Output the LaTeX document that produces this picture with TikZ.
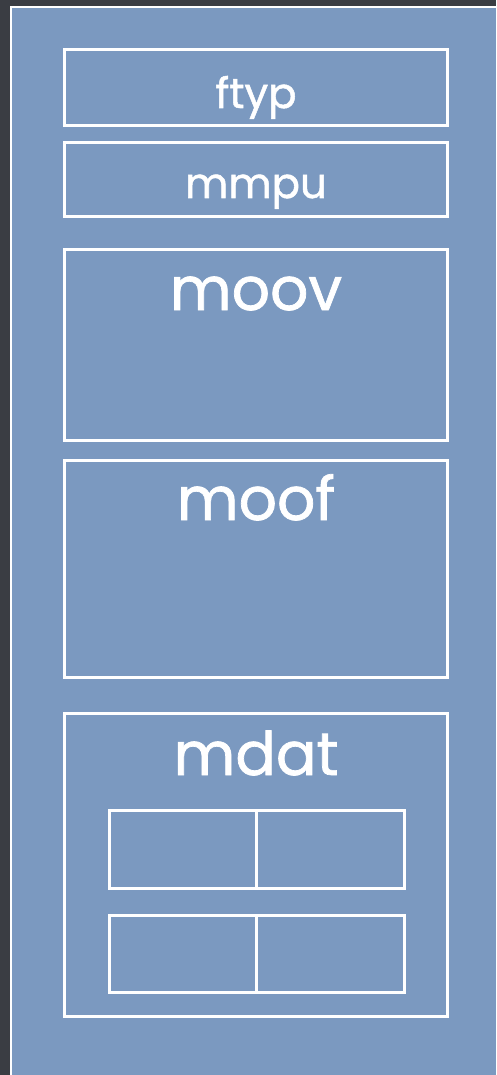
\documentclass[tikz,border=0pt]{standalone}
\usepackage{fontspec}
\setmainfont{Poppins}
\newfontfamily\chalk[FakeBold=1.2]{Poppins}
\usepackage{tikz}
\usetikzlibrary{positioning,calc}

\definecolor{slate}{HTML}{3A3D43}
\definecolor{panelblue}{HTML}{7B99C0}

\begin{document}
\begin{tikzpicture}[x=1pt, y=-1pt,
  box/.style={rectangle, draw=white, line width=3pt, minimum width=383pt, inner sep=0pt},
  cell/.style={rectangle, draw=white, line width=3pt, minimum width=147.5pt, inner sep=0pt, outer sep=0pt},
  small/.style={text=white, inner sep=0pt, anchor=base, font=\chalk\fontsize{42}{42}\selectfont},
  big/.style={text=white, inner sep=0pt, anchor=base, font=\chalk\fontsize{60}{60}\selectfont}
]
\useasboundingbox (0,0) rectangle (496,1075);
% background and panel
\fill[slate] (0,0) rectangle (496,1075);
\fill[panelblue] (10,6) rectangle (496,1075);
\draw[white, line width=2.5pt] (11,1075) -- (11,7) -- (496,7);

% boxes
\node[box, minimum height=76pt] (ftyp) at (255.5,88) {};
\node[box, minimum height=74pt] (mmpu) at (255.5,180) {};
\node[box, minimum height=191pt] (moov) at (255.5,344.5) {};
\node[box, minimum height=217pt] (moof) at (255.5,568.5) {};
\node[box, minimum height=303pt] (mdat) at (255.5,864.5) {};

% mdat cells
\node[cell, minimum height=78pt] (cellA) at (183,849) {};
\node[cell, minimum height=78pt, right=0pt of cellA] (cellB) {};
\node[cell, minimum height=77pt] (cellC) at (183,953.5) {};
\node[cell, minimum height=77pt, right=0pt of cellC] (cellD) {};

% labels
\node[small] (ftyplbl) at (256,108) {ftyp};
\node[small] (mmpulbl) at (256,198) {mmpu};
\node[big] (moovlbl) at (256,310) {moov};
\node[big] (mooflbl) at (256,520) {moof};
\node[big] (mdatlbl) at (256,775) {mdat};
\end{tikzpicture}
\end{document}
